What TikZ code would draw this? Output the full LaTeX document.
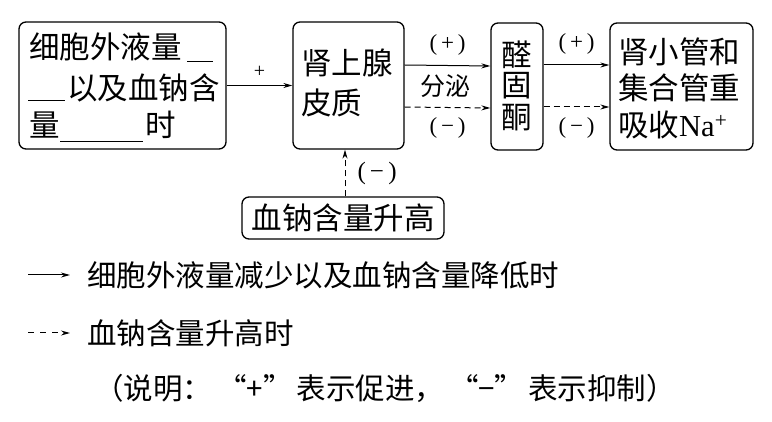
\documentclass[tikz,border=0pt]{standalone}
\usepackage{fontspec}
\setmainfont{Noto Sans CJK SC}
\newfontfamily\serifnum{Liberation Serif}
\usetikzlibrary{arrows.meta}
\begin{document}
\begin{tikzpicture}[x=1pt,y=-1pt,
  box/.style={draw,line width=1.3pt,rounded corners=7pt,inner sep=0pt},
  big/.style={font=\fontsize{30.5}{34}\selectfont,inner sep=0pt},
  lab/.style={font=\serifnum\fontsize{23}{26}\selectfont,inner sep=0pt},
  mid/.style={font=\fontsize{25}{28}\selectfont,inner sep=0pt},
  leg/.style={font=\fontsize{29.5}{34}\selectfont,inner sep=0pt,anchor=west},
  arr/.style={line width=1pt,-{Stealth[length=9pt,width=5pt]}},
  darr/.style={arr,dash pattern=on 6pt off 4pt},
  blank/.style={line width=1pt}]
\useasboundingbox (0,0) rectangle (772,422);
% boxes
\node[box,minimum width=207pt,minimum height=127pt] (b1) at (122.5,85.5) {};
\node[box,minimum width=111pt,minimum height=127pt] (b2) at (348.5,85.5) {};
\node[box,minimum width=52pt,minimum height=127pt] (b3) at (517,86.5) {};
\node[box,minimum width=143pt,minimum height=127pt] (b4) at (681.5,86.5) {};
\node[box,minimum width=202pt,minimum height=42pt] (b5) at (343,218) {};
% box1 text
\node[big,anchor=west] (t11) at (29,47) {细胞外液量};
\coordinate (u1a) at (187,62); \coordinate (u1b) at (213,62);
\draw[blank] (u1a) -- (u1b);
\coordinate (u2a) at (28,101); \coordinate (u2b) at (65,101);
\draw[blank] (u2a) -- (u2b);
\node[big,anchor=west] (t12) at (67,88) {以及血钠含};
\node[big,anchor=west] (t13) at (29,125) {量};
\coordinate (u3a) at (60,142); \coordinate (u3b) at (143,142);
\draw[blank] (u3a) -- (u3b);
\node[big,anchor=west] (t14) at (145,125) {时};
% box2 text
\node[big,anchor=west] (t21) at (301,63) {肾上腺};
\node[big,anchor=west] (t22) at (301,103) {皮质};
% box3 text
\node[big] (t31) at (517,55) {醛};
\node[big] (t32) at (517,86) {固};
\node[big] (t33) at (517,118) {酮};
% box4 text
\node[big,anchor=west] (t41) at (618,52) {肾小管和};
\node[big,anchor=west] (t42) at (618,88) {集合管重};
\node[big,anchor=west] (t43) at (618,125) {吸收{\serifnum Na\textsuperscript{+}}};
% box5 text
\node[big] (t5) at (343,218) {血钠含量升高};
% connectors
\draw[arr] (b1.east) -- (b2.west) node[lab,font=\serifnum\fontsize{20}{22}\selectfont,midway,above=7pt] {+};
\draw[arr] ([yshift=20.5pt]b2.east) -- ([yshift=20.5pt]b3.west) node[lab,midway,above=10pt] {(\,+\,)};
\draw[darr] ([yshift=-21.5pt]b2.east) -- ([yshift=-21.5pt]b3.west) node[lab,midway,below=10pt] {(\,−\,)};
\node[mid] (fm) at (445,86) {分泌};
\draw[arr] ([yshift=21.5pt]b3.east) -- ([yshift=21.5pt]b4.west) node[lab,midway,above=10pt] {(\,+\,)};
\draw[darr] ([yshift=-20.5pt]b3.east) -- ([yshift=-20.5pt]b4.west) node[lab,midway,below=10pt] {(\,−\,)};
\draw[darr] ([xshift=2pt]b5.north) -- ([xshift=-3.5pt]b2.south) node[lab,font=\serifnum\fontsize{25}{28}\selectfont,midway,right=12pt] {(\,−\,)};
% legend
\coordinate (l1a) at (28,275); \coordinate (l1b) at (70,275);
\draw[arr] (l1a) -- (l1b);
\node[leg] (lt1) at (87,275) {细胞外液量减少以及血钠含量降低时};
\coordinate (l2a) at (28,333); \coordinate (l2b) at (70,333);
\draw[darr,dash pattern=on 6pt off 6pt] (l2a) -- (l2b);
\node[leg] (lt2) at (87,333) {血钠含量升高时};
\node[leg] (lt3) at (94,388) {（说明：\hspace{5pt}“+”\hspace{4pt}表示促进，\hspace{5pt}“−”\hspace{4pt}表示抑制）};
\end{tikzpicture}
\end{document}
